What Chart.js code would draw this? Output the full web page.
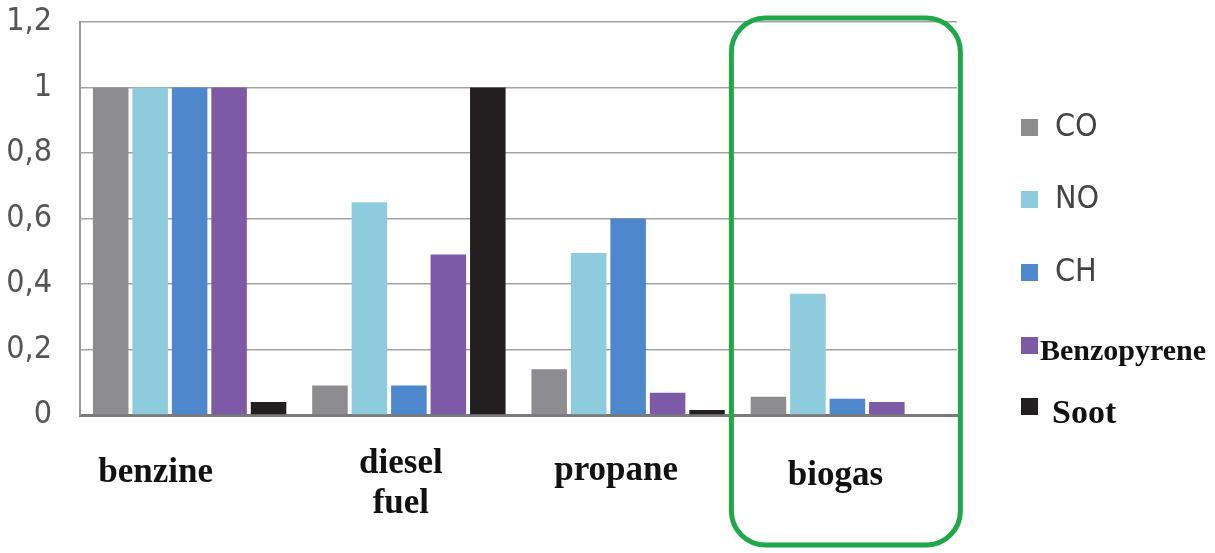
<!DOCTYPE html>
<html>
<head>
<meta charset="utf-8">
<script src="https://cdn.jsdelivr.net/npm/chart.js@4.4.1/dist/chart.umd.min.js"></script>
<style>
  html, body { margin: 0; padding: 0; background: #ffffff; }
  #wrap { width: 1215px; height: 553px; position: relative; }
</style>
</head>
<body>
<div id="wrap"><canvas id="c" width="1215" height="553"></canvas></div>
<script>
// ---- data ----
const categories = [["benzine"], ["diesel", "fuel"], ["propane"], ["biogas"]];
const seriesNames = ["CO", "NO", "CH", "Benzopyrene", "Soot"];
const coValues = [1.0, 0.09, 0.14, 0.056];
const noValues = [1.0, 0.65, 0.495, 0.37];
const chValues = [1.0, 0.09, 0.60, 0.05];
const benzopyreneValues = [1.0, 0.49, 0.068, 0.04];
const sootValues = [0.04, 1.0, 0.015, 0];
const yTicks = [0, 0.2, 0.4, 0.6, 0.8, 1, 1.2];

// ---- styles ----
const colors = ["#8d8d90", "#8ecbdc", "#4f87cc", "#7c5aa6", "#231f20"];
const seriesValues = [coValues, noValues, chValues, benzopyreneValues, sootValues];

const datasets = seriesNames.map((n, i) => ({
  label: n,
  data: seriesValues[i],
  backgroundColor: colors[i],
  borderWidth: 0,
  categoryPercentage: 0.9,
  barPercentage: 0.9
}));

const labelPlugin = {
  id: 'extras',
  afterDraw(chart) {
    const ctx = chart.ctx;
    const xs = chart.scales.x;
    const area = chart.chartArea;
    // category labels
    const dx = [-34, -8, -12, -12];
    const base = [482, 473, 480, 485];
    ctx.save();
    ctx.fillStyle = '#111';
    ctx.font = 'bold 35px "Liberation Serif", "Times New Roman", serif';
    ctx.textAlign = 'center';
    ctx.textBaseline = 'alphabetic';
    categories.forEach((lines, i) => {
      const cx = xs.getPixelForValue(i) + dx[i];
      lines.forEach((t, j) => ctx.fillText(t, cx, base[i] + j * 40));
    });
    ctx.restore();

    // green highlight box around biogas
    ctx.save();
    const c3 = xs.getPixelForValue(3);
    const l = c3 - 116, r = c3 + 113, t = area.top - 4, b = 545, rad = 34;
    ctx.strokeStyle = '#1fa84a';
    ctx.lineWidth = 5;
    ctx.beginPath();
    ctx.moveTo(l + rad, t);
    ctx.lineTo(r - rad, t);
    ctx.arcTo(r, t, r, t + rad, rad);
    ctx.lineTo(r, b - rad);
    ctx.arcTo(r, b, r - rad, b, rad);
    ctx.lineTo(l + rad, b);
    ctx.arcTo(l, b, l, b - rad, rad);
    ctx.lineTo(l, t + rad);
    ctx.arcTo(l, t, l + rad, t, rad);
    ctx.closePath();
    ctx.stroke();
    ctx.restore();

    // legend
    ctx.save();
    const ly = [127, 199, 272, 345, 406];
    chart.data.datasets.forEach((ds, i) => {
      ctx.fillStyle = ds.backgroundColor;
      ctx.fillRect(1021, ly[i] - 8, 17, 17);
      ctx.textBaseline = 'middle';
      ctx.textAlign = 'left';
      if (i < 3) {
        ctx.fillStyle = '#444';
        ctx.font = '32px "Liberation Sans Narrow", "DejaVu Sans Condensed", "Roboto", sans-serif';
        ctx.fillText(ds.label, 1055, ly[i] + 1);
      } else if (i === 3) {
        ctx.fillStyle = '#111';
        ctx.font = 'bold 30px "Liberation Serif", "Times New Roman", serif';
        ctx.textBaseline = 'alphabetic';
        ctx.fillText(ds.label, 1040, 360);
      } else {
        ctx.fillStyle = '#111';
        ctx.font = 'bold 34px "Liberation Serif", "Times New Roman", serif';
        ctx.textBaseline = 'alphabetic';
        ctx.fillText(ds.label, 1052, 423);
      }
    });
    ctx.restore();
  }
};

new Chart(document.getElementById('c'), {
  type: 'bar',
  data: { labels: categories.map(c => c.join(' ')), datasets },
  options: {
    responsive: false,
    animation: false,
    devicePixelRatio: 1,
    layout: { padding: { left: 0, right: 258, top: 22, bottom: 0 } },
    plugins: { legend: { display: false }, tooltip: { enabled: false } },
    scales: {
      x: {
        grid: { display: false, drawTicks: false },
        border: { display: true, color: '#7a7a7a', width: 3 },
        ticks: { display: false },
        afterFit(s) { s.height = 138; s.paddingLeft = 0; s.paddingRight = 0; }
      },
      y: {
        min: 0, max: 1.2,
        afterBuildTicks(s) { s.ticks = yTicks.map(v => ({ value: v })); },
        grid: { color: '#a3a3a3', lineWidth: 1.5, drawTicks: false },
        border: { display: true, color: '#9a9a9a', width: 2 },
        ticks: {
          padding: 28,
          color: '#555',
          font: { family: '"Liberation Sans Narrow", "DejaVu Sans Condensed", sans-serif', size: 32 },
          callback: v => String(Math.round(v * 10) / 10).replace('.', ',')
        },
        afterFit(s) { s.width = 80; s.paddingTop = 0; s.paddingBottom = 0; }
      }
    }
  },
  plugins: [labelPlugin]
});
</script>
</body>
</html>
